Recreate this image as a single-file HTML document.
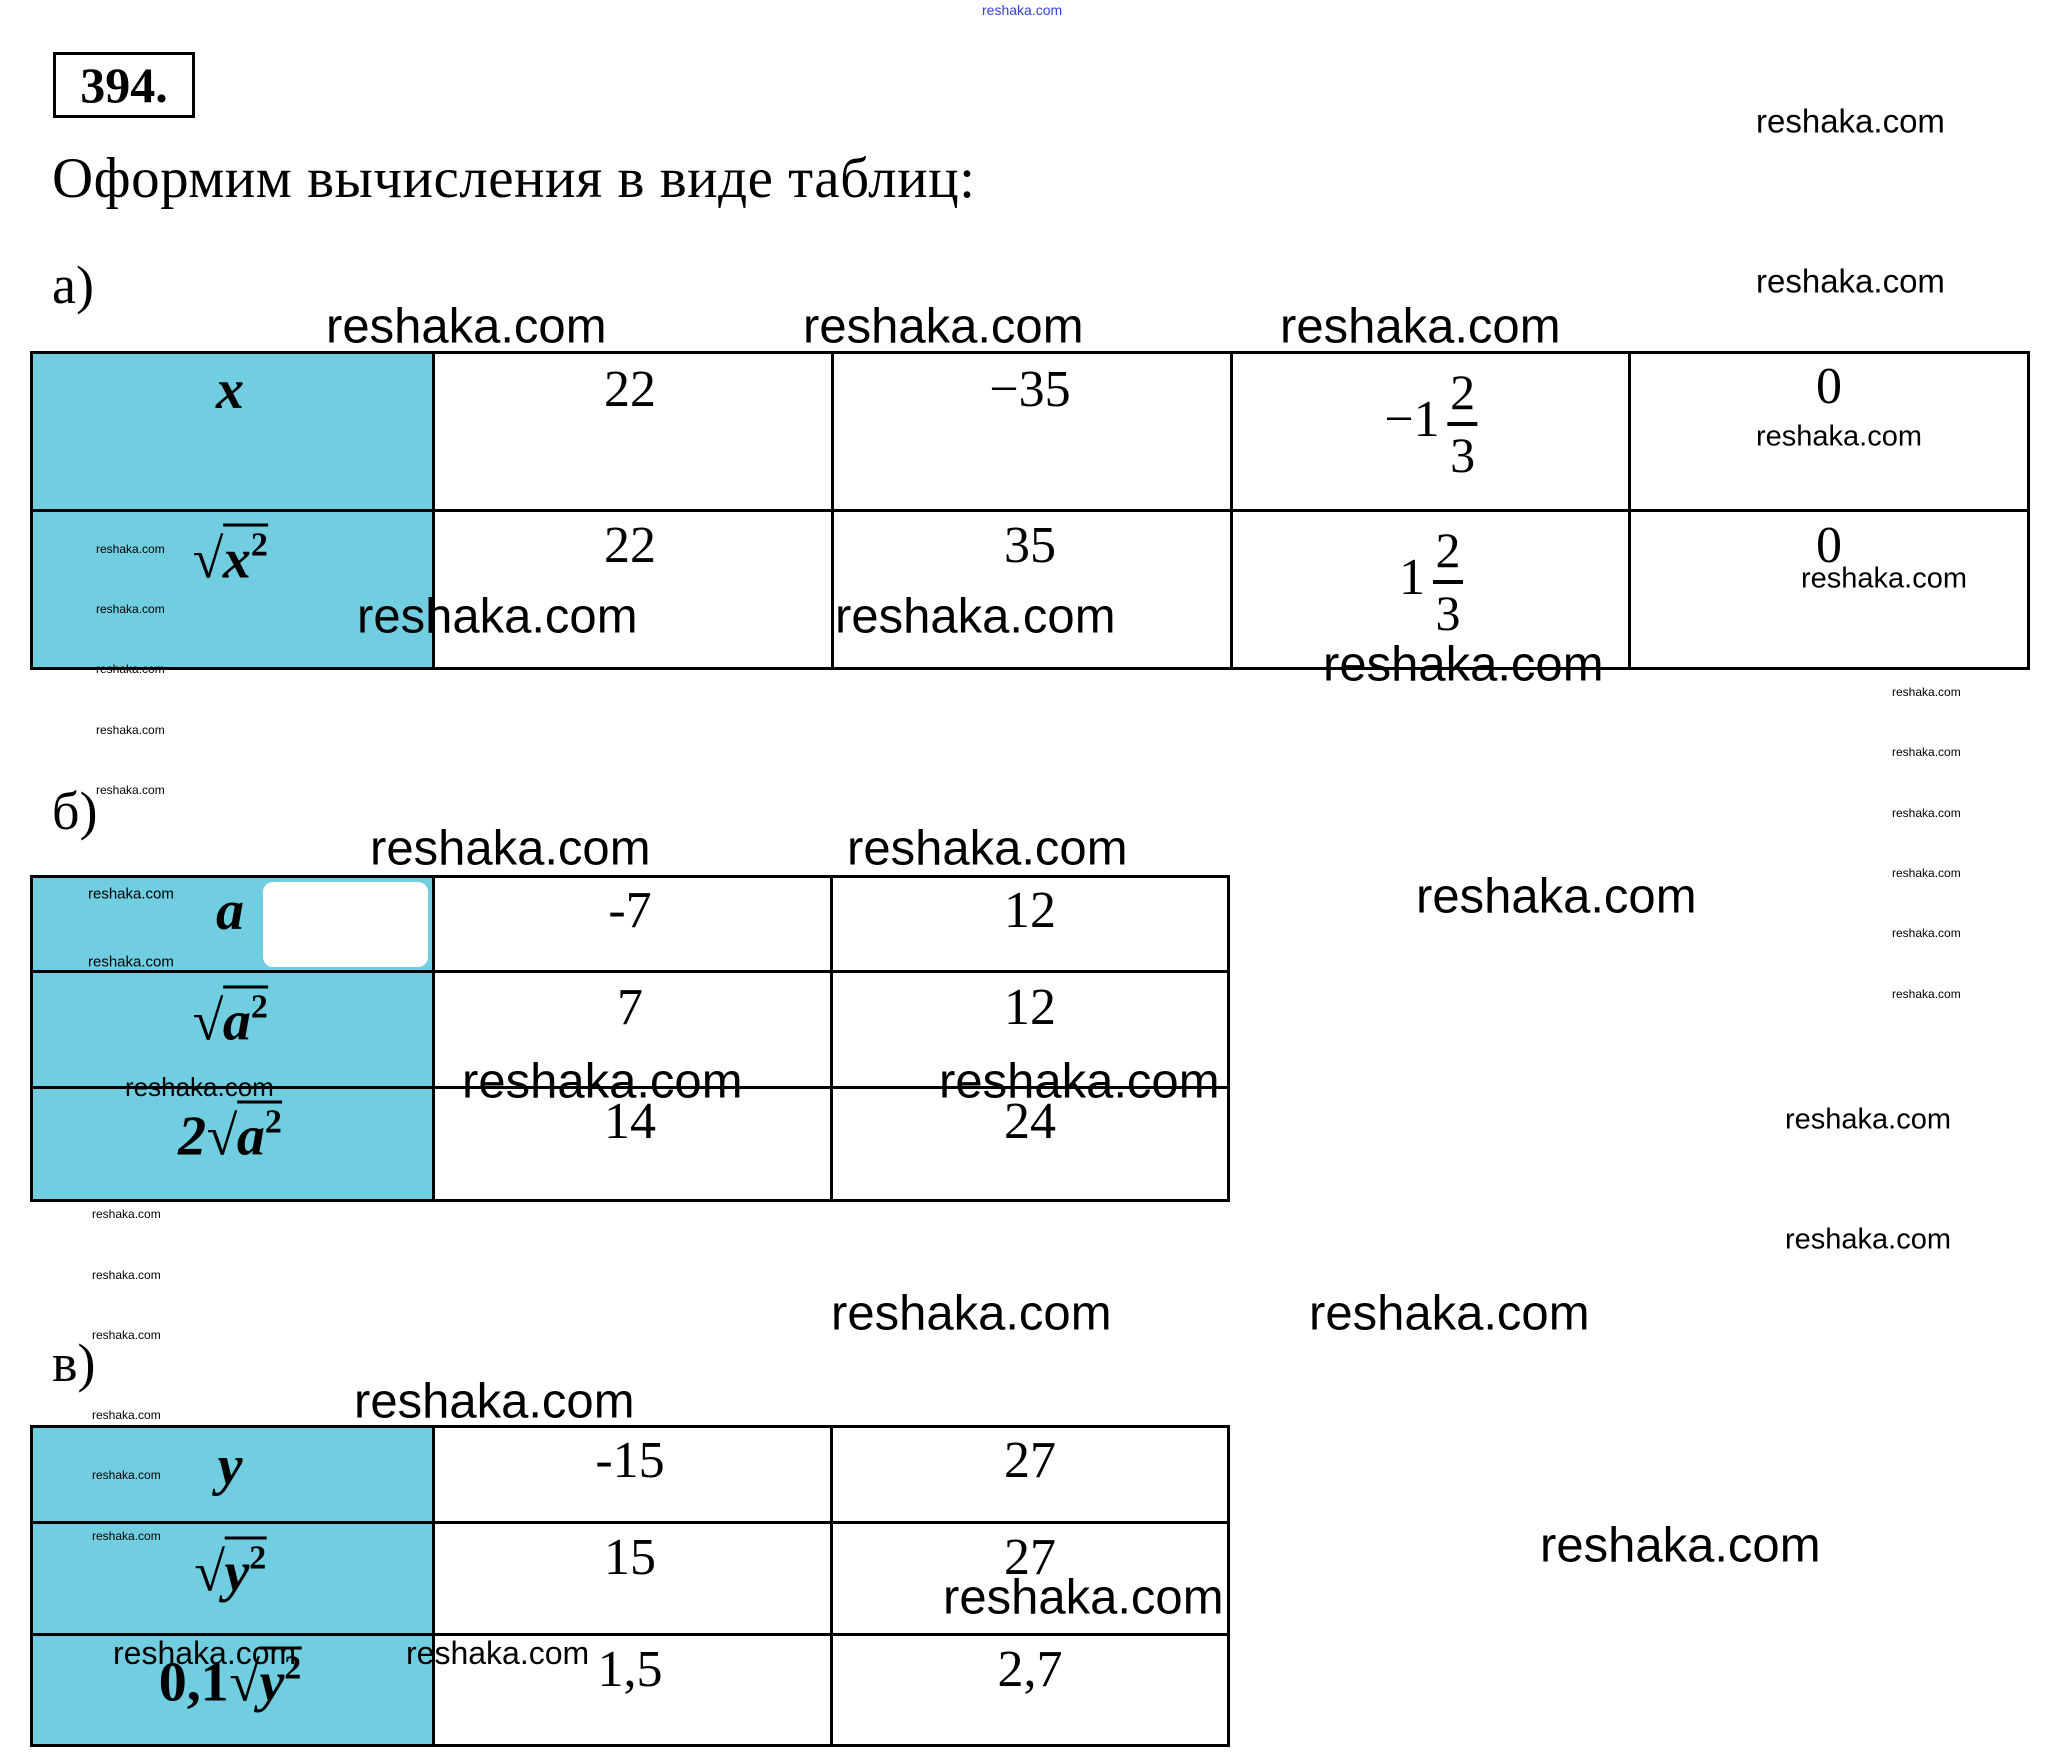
<!DOCTYPE html>
<html><head><meta charset="utf-8"><style>
body{margin:0;width:2053px;height:1761px;background:#fff;position:relative;overflow:hidden;font-family:"Liberation Serif",serif}
.c{position:absolute;transform:translate(-50%,-50%);white-space:nowrap;line-height:1;font-size:52px}
.w{position:absolute;transform:translateY(-50%);white-space:nowrap;line-height:1;font-family:"Liberation Sans",sans-serif;color:#000}
.big{font-size:49px}.med{font-size:33px}.sm{font-size:12px}
table{position:absolute;border-collapse:collapse}
td{border:3px solid #000;padding:0}
td.h{background:#71cde0}
.m{font-weight:bold;font-style:italic;font-size:56px}
.o{border-top:3px solid #000;padding-top:2px}
sup{font-size:34px;vertical-align:22px;font-style:normal}
.fr{display:inline-flex;flex-direction:column;align-items:center;vertical-align:middle;font-size:50px;margin-left:8px}
.fr span{line-height:1.1}.fr i{display:block;width:30px;border-top:4px solid #000;margin:2px 0}
</style></head><body>
<div style="position:absolute;left:53px;top:52px;width:136px;height:60px;border:3px solid #000;font-weight:bold;font-size:50px;line-height:60px;text-align:center">394.</div>
<div style="position:absolute;left:52px;top:150px;font-size:57px;line-height:1;letter-spacing:0.5px">Оформим вычисления в виде таблиц:</div>
<div style="position:absolute;left:52px;top:258px;font-size:54px;line-height:1">а)</div>
<div style="position:absolute;left:52px;top:784px;font-size:54px;line-height:1">б)</div>
<div style="position:absolute;left:52px;top:1336px;font-size:54px;line-height:1">в)</div>

<table style="left:30px;top:351px;width:2000px;height:319px">
<tr style="height:158px"><td class="h" style="width:399px"></td><td></td><td></td><td></td><td></td></tr>
<tr><td class="h"></td><td></td><td></td><td></td><td></td></tr></table>
<table style="left:30px;top:875px;width:1200px;height:327px">
<tr style="height:95px"><td class="h" style="width:399px"></td><td></td><td></td></tr>
<tr style="height:116px"><td class="h"></td><td></td><td></td></tr>
<tr><td class="h"></td><td></td><td></td></tr></table>
<table style="left:30px;top:1425px;width:1200px;height:322px">
<tr style="height:96px"><td class="h" style="width:399px"></td><td></td><td></td></tr>
<tr style="height:112px"><td class="h"></td><td></td><td></td></tr>
<tr><td class="h"></td><td></td><td></td></tr></table>
<div style="position:absolute;left:263px;top:882px;width:165px;height:85px;background:#fff;border-radius:10px"></div>

<!-- table a -->
<div class="c m" style="left:230px;top:390px">x</div>
<div class="c" style="left:630px;top:390px">22</div>
<div class="c" style="left:1030px;top:390px">−35</div>
<div class="c" style="left:1431px;top:424px">−1<span class="fr"><span>2</span><i></i><span>3</span></span></div>
<div class="c" style="left:1829px;top:387px">0</div>
<div class="c m" style="left:230px;top:558px">√<span class="o">x<sup>2</sup></span></div>
<div class="c" style="left:630px;top:546px">22</div>
<div class="c" style="left:1030px;top:546px">35</div>
<div class="c" style="left:1431px;top:582px">1<span class="fr"><span>2</span><i></i><span>3</span></span></div>
<div class="c" style="left:1829px;top:546px">0</div>
<!-- table b -->
<div class="c m" style="left:230px;top:911px">a</div>
<div class="c" style="left:630px;top:911px">-7</div>
<div class="c" style="left:1030px;top:911px">12</div>
<div class="c m" style="left:230px;top:1020px">√<span class="o">a<sup>2</sup></span></div>
<div class="c" style="left:630px;top:1008px">7</div>
<div class="c" style="left:1030px;top:1008px">12</div>
<div class="c m" style="left:230px;top:1135px">2√<span class="o">a<sup>2</sup></span></div>
<div class="c" style="left:630px;top:1122px">14</div>
<div class="c" style="left:1030px;top:1122px">24</div>
<!-- table c -->
<div class="c m" style="left:230px;top:1466px">y</div>
<div class="c" style="left:630px;top:1461px">-15</div>
<div class="c" style="left:1030px;top:1461px">27</div>
<div class="c m" style="left:230px;top:1571px">√<span class="o">y<sup>2</sup></span></div>
<div class="c" style="left:630px;top:1558px">15</div>
<div class="c" style="left:1030px;top:1558px">27</div>
<div class="c m" style="left:230px;top:1681px"><span style="font-style:normal">0,1</span>√<span class="o">y<sup>2</sup></span></div>
<div class="c" style="left:630px;top:1670px">1,5</div>
<div class="c" style="left:1030px;top:1670px">2,7</div>

<!-- watermarks -->
<div class="w" style="left:982px;top:10px;font-size:14px;color:#3344cc">reshaka.com</div>
<div class="w med" style="left:1756px;top:121px">reshaka.com</div>
<div class="w med" style="left:1756px;top:281px">reshaka.com</div>
<div class="w big" style="left:326px;top:327px">reshaka.com</div>
<div class="w big" style="left:803px;top:327px">reshaka.com</div>
<div class="w big" style="left:1280px;top:327px">reshaka.com</div>
<div class="w" style="left:1756px;top:437px;font-size:29px">reshaka.com</div>
<div class="w sm" style="left:96px;top:549px">reshaka.com</div>
<div class="w sm" style="left:96px;top:609px">reshaka.com</div>
<div class="w sm" style="left:96px;top:669px">reshaka.com</div>
<div class="w sm" style="left:96px;top:730px">reshaka.com</div>
<div class="w sm" style="left:96px;top:790px">reshaka.com</div>
<div class="w big" style="left:357px;top:617px">reshaka.com</div>
<div class="w big" style="left:835px;top:617px">reshaka.com</div>
<div class="w big" style="left:1323px;top:665px">reshaka.com</div>
<div class="w" style="left:1801px;top:579px;font-size:29px">reshaka.com</div>
<div class="w sm" style="left:1892px;top:692px">reshaka.com</div>
<div class="w sm" style="left:1892px;top:752px">reshaka.com</div>
<div class="w sm" style="left:1892px;top:813px">reshaka.com</div>
<div class="w sm" style="left:1892px;top:873px">reshaka.com</div>
<div class="w sm" style="left:1892px;top:933px">reshaka.com</div>
<div class="w sm" style="left:1892px;top:994px">reshaka.com</div>
<div class="w big" style="left:370px;top:849px">reshaka.com</div>
<div class="w big" style="left:847px;top:849px">reshaka.com</div>
<div class="w big" style="left:1416px;top:897px">reshaka.com</div>
<div class="w" style="left:88px;top:894px;font-size:15px">reshaka.com</div>
<div class="w" style="left:88px;top:962px;font-size:15px">reshaka.com</div>
<div class="w" style="left:125px;top:1087px;font-size:26px">reshaka.com</div>
<div class="w big" style="left:462px;top:1082px">reshaka.com</div>
<div class="w big" style="left:939px;top:1082px">reshaka.com</div>
<div class="w" style="left:1785px;top:1120px;font-size:29px">reshaka.com</div>
<div class="w" style="left:1785px;top:1240px;font-size:29px">reshaka.com</div>
<div class="w sm" style="left:92px;top:1214px">reshaka.com</div>
<div class="w sm" style="left:92px;top:1275px">reshaka.com</div>
<div class="w sm" style="left:92px;top:1335px">reshaka.com</div>
<div class="w sm" style="left:92px;top:1415px">reshaka.com</div>
<div class="w sm" style="left:92px;top:1475px">reshaka.com</div>
<div class="w sm" style="left:92px;top:1536px">reshaka.com</div>
<div class="w big" style="left:831px;top:1314px">reshaka.com</div>
<div class="w big" style="left:1309px;top:1314px">reshaka.com</div>
<div class="w big" style="left:354px;top:1402px">reshaka.com</div>
<div class="w big" style="left:1540px;top:1546px">reshaka.com</div>
<div class="w big" style="left:943px;top:1598px">reshaka.com</div>
<div class="w" style="left:113px;top:1653px;font-size:32px">reshaka.com</div>
<div class="w" style="left:406px;top:1653px;font-size:32px">reshaka.com</div>
</body></html>
